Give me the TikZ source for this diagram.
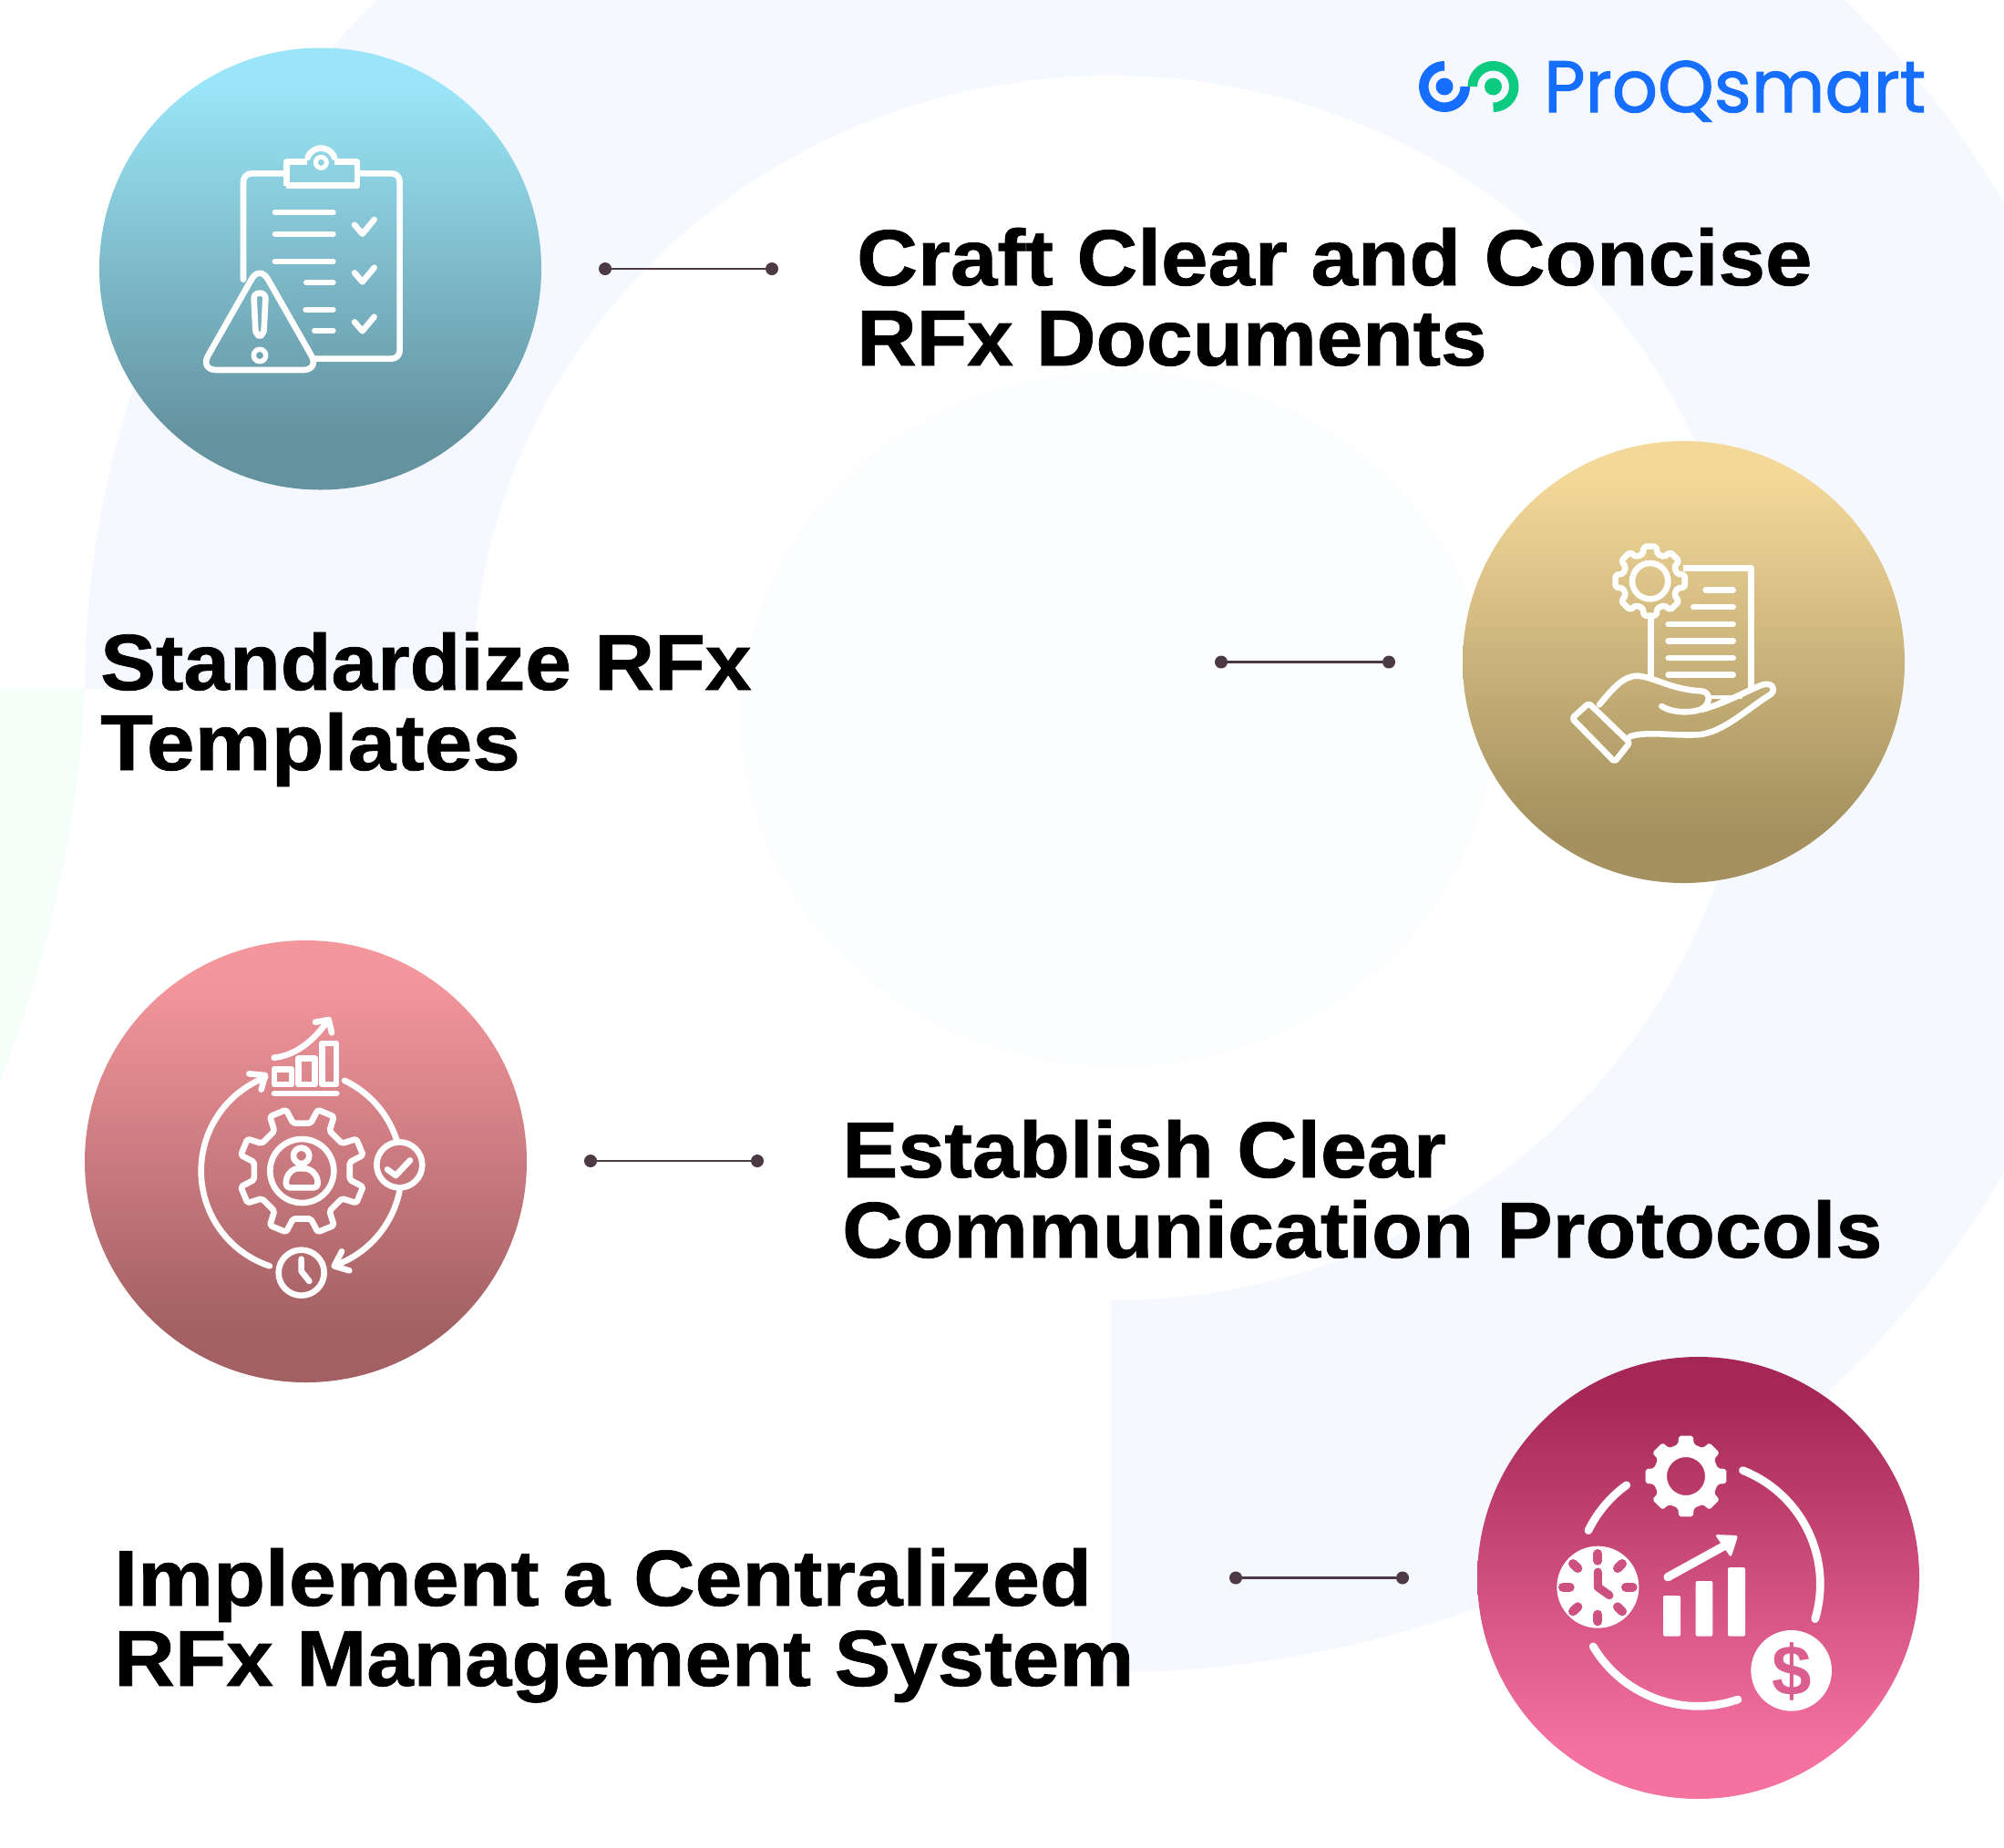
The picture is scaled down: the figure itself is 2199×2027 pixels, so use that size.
\documentclass[tikz,border=0pt]{standalone}
\usepackage{fontspec}
\setmainfont{Liberation Sans}
\newfontfamily\logofont[FakeBold=1.3,FakeStretch=0.98]{Poppins}
\newfontfamily\headfont[FakeBold=0.9]{Liberation Sans}
\newcommand{\ls}[1]{\addfontfeature{FakeStretch=#1}}
\usetikzlibrary{calc}
\definecolor{palebg}{HTML}{F5F8FF}
\definecolor{palegreen}{HTML}{F5FFFA}
\definecolor{faintbg}{HTML}{FCFDFF}
\definecolor{linkc}{HTML}{4B3A44}
\definecolor{logoblue}{HTML}{166EFE}
\definecolor{logogreen}{HTML}{0CCA7F}
\definecolor{tickc}{HTML}{CC5080}
\definecolor{dollarc}{HTML}{DB5E90}
\definecolor{aT}{HTML}{9AE6F8}\definecolor{aB}{HTML}{64929F}
\definecolor{bT}{HTML}{F3D899}\definecolor{bB}{HTML}{A4915F}
\definecolor{cT}{HTML}{F4979D}\definecolor{cB}{HTML}{A36063}
\definecolor{dT}{HTML}{A42756}\definecolor{dB}{HTML}{F471A0}
\pgfdeclareverticalshading{sa}{100bp}{color(0bp)=(aB);color(31bp)=(aB);color(71bp)=(aT);color(100bp)=(aT)}
\pgfdeclareverticalshading{sb}{100bp}{color(0bp)=(bB);color(31bp)=(bB);color(71bp)=(bT);color(100bp)=(bT)}
\pgfdeclareverticalshading{sc}{100bp}{color(0bp)=(cB);color(31bp)=(cB);color(71bp)=(cT);color(100bp)=(cT)}
\pgfdeclareverticalshading{sd}{100bp}{color(0bp)=(dB);color(31bp)=(dB);color(71bp)=(dT);color(100bp)=(dT)}
\tikzset{
 badge/.style={circle,minimum size=485pt,inner sep=0pt,draw=none},
 linkdot/.style={circle,fill=linkc,minimum size=14pt,inner sep=0pt,draw=none},
 linkline/.style={draw=linkc,line width=2.8pt},
 heading/.style={anchor=base west,align=left,inner sep=0pt,text=black,font=\headfont\fontsize{87}{88}\selectfont\bfseries},
 ic/.style={draw=white,line width=6.6pt,line join=round,line cap=round},
}
% polar arc helper: angles counter-clockwise as seen on the page
\newcommand{\iarc}[6][ic]{\draw[#1] plot[domain=#5:#6,samples=50,variable=\t] ({#2+#4*cos(\t)},{#3-#4*sin(\t)});}
% gear outline: cx cy rOut rIn n rot halfTip halfRoot -> \gearp
\newcommand{\makegear}[8]{%
 \gdef\gearp{}%
 \foreach \i in {1,...,#5}{%
  \pgfmathsetmacro{\ga}{#6+(\i-1)*360/#5}%
  \pgfmathsetmacro{\pxa}{#1+#4*cos(\ga-#8)}\pgfmathsetmacro{\pya}{#2-#4*sin(\ga-#8)}%
  \pgfmathsetmacro{\pxb}{#1+#3*cos(\ga-#7)}\pgfmathsetmacro{\pyb}{#2-#3*sin(\ga-#7)}%
  \pgfmathsetmacro{\pxc}{#1+#3*cos(\ga+#7)}\pgfmathsetmacro{\pyc}{#2-#3*sin(\ga+#7)}%
  \pgfmathsetmacro{\pxd}{#1+#4*cos(\ga+#8)}\pgfmathsetmacro{\pyd}{#2-#4*sin(\ga+#8)}%
  \xdef\gearp{\gearp(\pxa,\pya)--(\pxb,\pyb)--(\pxc,\pyc)--(\pxd,\pyd)--}%
 }}
\begin{document}
\begin{tikzpicture}[x=1pt,y=-1pt]
\useasboundingbox (0,0) rectangle (2199,2027);
\fill[white] (0,0) rectangle (2199,2027);
% background
\begin{scope}
 \clip (0,0) rectangle (2199,755);
 \fill[palebg] (1219,755) ellipse [x radius=1126,y radius=1080];
\end{scope}
\begin{scope}
 \clip (1219,755) rectangle (2199,2027);
 \fill[palebg] (1219,755) ellipse [x radius=1126,y radius=1080];
\end{scope}
\fill[palegreen] (0,755) -- (93,755) .. controls (88,900) and (50,1060) .. (0,1187) -- cycle;
\fill[white] (1219,755) ellipse [x radius=700,y radius=672];
\fill[faintbg] (1226,789) ellipse [x radius=413,y radius=382];
% badges
\node[badge,shading=sa] (b1) at (351.5,295) {};
\node[badge,shading=sb] (b2) at (1847.5,726.5) {};
\node[badge,shading=sc] (b3) at (335.5,1274.5) {};
\node[badge,shading=sd] (b4) at (1863.5,1731.5) {};
% connectors
\node[linkdot] (l1a) at (664,295) {};   \node[linkdot] (l1b) at (847,295) {};
\node[linkdot] (l2a) at (1340,726.5) {}; \node[linkdot] (l2b) at (1524,726.5) {};
\node[linkdot] (l3a) at (648,1274) {}; \node[linkdot] (l3b) at (831,1274) {};
\node[linkdot] (l4a) at (1356,1731.5) {}; \node[linkdot] (l4b) at (1539,1731.5) {};
\draw[linkline] (l1a) -- (l1b);
\draw[linkline] (l2a) -- (l2b);
\draw[linkline] (l3a) -- (l3b);
\draw[linkline] (l4a) -- (l4b);
% headings
\node[heading] (t1) at (940,401) {\ls{1.063}Craft Clear and Concise\\\ls{1.044}RFx Documents};
\node[heading] (t2) at (110,845) {\ls{1.048}Standardize RFx\\\ls{1.087}Templates};
\node[heading] (t3) at (924,1380) {\ls{1.054}Establish Clear\\\ls{1.054}Communication Protocols};
\node[heading] (t4) at (125,1850) {\ls{1.072}Implement a Centralized\\\ls{1.062}RFx Management System};
% logo
\node[anchor=base west,inner sep=0pt,text=logoblue,font=\logofont\fontsize{80}{80}\selectfont] (logo) at (1694,123) {ProQsmart};
\iarc[{draw=logoblue,line width=10.5pt}]{1585}{95}{22.7}{90}{360}
\iarc[{draw=logogreen,line width=10.5pt}]{1638.5}{95}{22.7}{-90}{180}
\fill[logoblue] (1585,95) circle [radius=9.5];
\fill[logogreen] (1638.5,95) circle [radius=9.5];
% icon 1
\begin{scope}[shift={(100,50)},scale=0.33333]
 \draw[ic,rounded corners=9pt] (640,421)--(501,421)--(501,770);
 \draw[ic,rounded corners=9pt] (878,421)--(1016,421)--(1016,1031)--(738,1031);
 \draw[ic,line cap=butt] (643,461)--(643,383)--(712,383);
 \iarc{757}{385}{47}{20}{160}
 \draw[ic,line cap=butt] (802,383)--(876,383)--(876,461)--(643,461);
 \draw[ic,line width=5pt] (757,385) circle [radius=18];
 \foreach \yy/\xa in {550/605,620/605,711/605,780/708,869/706,938/735}{\draw[ic,line width=6pt] (\xa,\yy)--(797,\yy);}
 \foreach \dd in {0,158,320}{\draw[ic,line width=6.5pt] (867,{590+\dd})--(893,{620+\dd})--(932,{573+\dd});}
 \draw[ic,rounded corners=18pt] (555,722)--(752,1068)--(358,1068)--cycle;
 \draw[ic,rounded corners=6pt] (535,815)--(575,815)--(568,955)--(542,955)--cycle;
 \draw[ic,line width=5.5pt] (555,1020) circle [radius=20];
\end{scope}
% icon 2
\begin{scope}[shift={(1600,480)},scale=0.33333]
 \makegear{632}{473}{116}{92}{8}{90}{10}{15}
 \draw[ic,rounded corners=2pt] \gearp cycle;
 \draw[ic] (632,473) circle [radius=59];
 \draw[ic,line cap=butt] (740,430)--(965,430)--(965,835);
 \draw[ic,line cap=butt] (635,590)--(635,785);
 \foreach \yy/\xa in {503/815,558/775,615/692,670/692,726/692,782/692}{\draw[ic] (\xa,\yy)--(905,\yy);}
 \draw[ic,rounded corners=3pt] (375,925)--(430,875)--(565,1005)--(515,1068)--cycle;
 \draw[ic] (465,880) .. controls (510,825) and (545,785) .. (590,785) .. controls (650,790) and (700,830) .. (800,835) .. controls (835,838) and (830,880) .. (800,895) .. controls (760,910) and (700,905) .. (670,885);
 \draw[ic] (565,985) .. controls (620,965) and (720,985) .. (800,978) .. controls (880,965) and (950,895) .. (1030,845) .. controls (1050,825) and (1030,805) .. (1000,815) .. controls (950,835) and (880,875) .. (800,897);
 \draw[ic,line width=4pt] (835,855)--(930,855);
 \draw[ic,line width=4pt] (848,880)--(875,862);
\end{scope}
% icon 3
\begin{scope}[shift={(90,1030)},scale=0.33333]
 \iarc{722}{765}{330}{111}{251.6}
 \draw[ic] (550,445)--(603,450)--(590,497);
 \iarc{722}{765}{330}{17.7}{64.5}
 \iarc{722}{765}{330}{-70}{-11.4}
 \draw[ic] (880,1093)--(830,1078)--(855,1030);
 \draw[ic] (1045,745) circle [radius=75];
 \draw[ic] (1005,760)--(1033,780)--(1080,730);
 \draw[ic] (722,1100) circle [radius=75];
 \draw[ic] (722,1055)--(722,1095)--(748,1128);
 \makegear{724}{765}{208}{160}{8}{22.5}{8}{12}
 \draw[ic,rounded corners=2pt] \gearp cycle;
 \draw[ic] (724,765) circle [radius=105];
 \draw[ic] (722,715) circle [radius=26];
 \draw[ic,rounded corners=4pt] (672,820) .. controls (670,775) and (695,757) .. (722,757) .. controls (750,757) and (778,775) .. (775,820) -- cycle;
 \draw[ic,line cap=butt] (633,430) rectangle (690,480);
 \draw[ic,line cap=butt] (712,395) rectangle (767,480);
 \draw[ic,line cap=butt] (790,345) rectangle (837,480);
 \draw[ic] (633,510)--(838,510);
 \draw[ic] (632,392) .. controls (700,385) and (760,340) .. (808,272);
 \draw[ic] (768,275)--(812,267)--(822,310);
\end{scope}
% icon 4
\begin{scope}[shift={(1620,1490)},scale=0.33333]
 \makegear{690}{390}{135}{108}{8}{0}{10}{14}
 \fill[white,even odd rule,rounded corners=2pt] \gearp cycle (690,390) circle [radius=63];
 \iarc[{ic,line width=8.7pt}]{730}{745}{402}{-16.6}{68.5}
 \iarc[{ic,line width=8.7pt}]{730}{745}{402}{210.7}{289}
 \iarc[{ic,line width=8.7pt}]{730}{745}{402}{125.9}{154}
 \fill[white] (400,755) circle [radius=135];
 \foreach \xa/\ya/\xb/\yb in {400/645/400/668,400/845/400/868,285/755/308/755,492/755/515/755,318/678/334/693,480/678/465/693,318/835/334/820,480/835/465/820}{
  \draw[draw=tickc,line width=10pt,line cap=round] (\xa,\ya)--(\xb,\yb);}
 \draw[draw=tickc,line width=9pt,line cap=round,line join=round] (400,705)--(400,755)--(438,782);
 \foreach \xa/\ya/\xb in {615/783/672,722/735/778,828/690/885}{\fill[white,rounded corners=2pt] (\xa,\ya) rectangle (\xb,917);}
 \draw[ic,line width=9.3pt] (630,722)--(815,620);
 \fill[white,rounded corners=3pt] (785,582)--(862,585)--(838,658)--cycle;
 \fill[white] (1037,1030) circle [radius=133];
 \node[text=dollarc,font=\fontsize{78}{78}\selectfont\bfseries,inner sep=0pt] (dollar) at (1037,1032) {\$};
\end{scope}
\end{tikzpicture}
\end{document}
